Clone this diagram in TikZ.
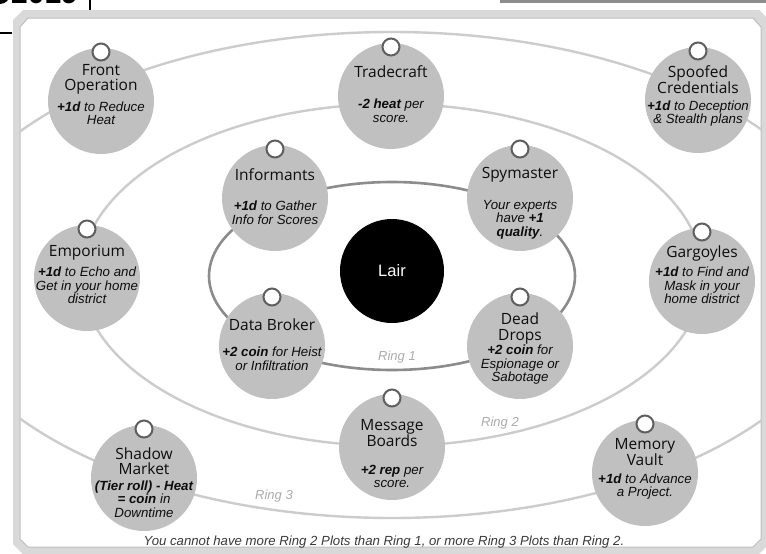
\documentclass[tikz,border=0pt]{standalone}
\usepackage{fontspec}
\setmainfont{Liberation Sans}
\newfontfamily\titlefont{Open Sans}
\definecolor{plotgray}{HTML}{C0C0C0}
\definecolor{ringdark}{HTML}{8C8C8C}
\definecolor{ringlight}{HTML}{CCCCCC}
\definecolor{holeedge}{HTML}{5F5F5F}
\definecolor{bandgray}{HTML}{D9D9D9}
\definecolor{bandedge}{HTML}{BEBEBE}
\definecolor{labelgray}{HTML}{ABABAB}
\definecolor{notegray}{HTML}{3A3A3A}
\tikzset{
  plot/.style={circle, fill=plotgray, minimum size=106pt, inner sep=0pt},
  hole/.style={circle, draw=holeedge, line width=2pt, fill=white, minimum size=17pt, inner sep=0pt},
  plottitle/.style={align=center, inner sep=0pt, text=black!95, font=\titlefont\fontsize{15.5}{15.5}\selectfont},
  plotbody/.style={align=center, inner sep=0pt, text=black!95, font=\itshape\fontsize{13.3}{13.5}\selectfont},
  ringlabel/.style={inner sep=0pt, text=labelgray, font=\itshape\fontsize{13}{13}\selectfont},
}
\begin{document}
\begin{tikzpicture}[x=1pt,y=-1pt]
    \useasboundingbox (0,0) rectangle (766,554);
    % page bits cut off at the edge
    \fill (0,-6) circle (10pt);
    \node[anchor=base west, inner sep=0pt, font=\bfseries\fontsize{30}{30}\selectfont] (year) at (11,4) {2019};
    \draw[line width=1.5pt] (90,0) -- (90,11);
    \draw[line width=2pt] (0,33) -- (12,33);
    \fill[black!45] (500,0) rectangle (766,2.7);

    % frame
    \fill[bandgray] (13,20) -- (23,10) -- (759,10) -- (769,20) -- (769,544) -- (759,554) -- (23,554) -- (13,544) -- cycle;
    \filldraw[fill=white, draw=bandedge, line width=1pt] (20,27) -- (28,18) -- (753,18) -- (761,27) -- (761,539) -- (753,547) -- (28,547) -- (20,539) -- cycle;

    % rings
    \begin{scope}
        \clip (20,27) -- (28,18) -- (753,18) -- (761,27) -- (761,539) -- (753,547) -- (28,547) -- (20,539) -- cycle;
        \draw[ringlight, line width=2.4pt] (392,275) ellipse [x radius=461pt, y radius=243pt];
        \draw[ringlight, line width=2.4pt] (392,275) ellipse [x radius=311pt, y radius=171pt];
        \draw[ringdark, line width=2.6pt] (392,276) ellipse [x radius=183pt, y radius=94pt];
    \end{scope}
    \node[ringlabel] (r1) at (397,357) {Ring 1};
    \node[ringlabel] (r2) at (500,423) {Ring 2};
    \node[ringlabel] (r3) at (274,496) {Ring 3};

    \node[circle, fill=black, minimum size=104pt, inner sep=0pt, text=white,
          font=\fontsize{16.5}{16.5}\selectfont] (lair) at (392,271) {Lair};

    % ring 3
    \node[plot] (front) at (101,101) {};
    \node[plot] (trade) at (391,96) {};
    \node[plot] (spoof) at (698,100) {};
    \node[plot] (empor) at (87,278) {};
    \node[plot] (garg) at (702,281) {};
    \node[plot] (shadow) at (144,478) {};
    \node[plot] (boards) at (392,447) {};
    \node[plot] (vault) at (645,473) {};
    % ring 1
    \node[plot] (inform) at (275,198) {};
    \node[plot] (spy) at (520,198) {};
    \node[plot] (broker) at (272,346) {};
    \node[plot] (drops) at (520,346) {};

    \foreach \p in {front,trade,spoof,empor,garg,shadow,boards,vault,inform,spy,broker,drops}
        \node[hole] (\p-hole) at ([yshift=49pt]\p.center) {};

    \node[plottitle] (front-t) at (101,79.5) {Front\\Operation};
    \node[plotbody] (front-b) at (101,113) {\textbf{+1d} to Reduce\\Heat};
    \node[plottitle] (trade-t) at (391,72) {Tradecraft};
    \node[plotbody] (trade-b) at (391,110.5) {\textbf{-2 heat} per\\score.};
    \node[plottitle] (spoof-t) at (698,79.5) {Spoofed\\Credentials};
    \node[plotbody] (spoof-b) at (698,113.5) {\textbf{+1d} to Deception\\\& Stealth plans};
    \node[plottitle] (inform-t) at (275,175) {Informants};
    \node[plotbody] (inform-b) at (275,212.5) {\textbf{+1d} to Gather\\Info for Scores};
    \node[plottitle] (spy-t) at (520,175) {Spymaster};
    \node[plotbody] (spy-b) at (520,219.5) {Your experts\\have \textbf{+1}\\\textbf{quality}.};
    \node[plottitle] (empor-t) at (87,253) {Emporium};
    \node[plotbody] (empor-b) at (87,285.5) {\textbf{+1d} to Echo and\\Get in your home\\district};
    \node[plottitle] (garg-t) at (702,253) {Gargoyles};
    \node[plotbody] (garg-b) at (702,285.5) {\textbf{+1d} to Find and\\Mask in your\\home district};
    \node[plottitle] (broker-t) at (272,325) {Data Broker};
    \node[plotbody] (broker-b) at (272,358.5) {\textbf{+2 coin} for Heist\\or Infiltration};
    \node[plottitle] (drops-t) at (520,328.5) {Dead\\Drops};
    \node[plotbody] (drops-b) at (520,365) {\textbf{+2 coin} for\\Espionage or\\Sabotage};
    \node[plottitle] (boards-t) at (392,433) {Message\\Boards};
    \node[plotbody] (boards-b) at (392,476.5) {\textbf{+2 rep} per\\score.};
    \node[plottitle] (vault-t) at (645,452) {Memory\\Vault};
    \node[plotbody] (vault-b) at (645,486.5) {\textbf{+1d} to Advance\\a Project.};
    \node[plottitle] (shadow-t) at (144,461) {Shadow\\Market};
    \node[plotbody] (shadow-b) at (144,499) {\textbf{(Tier roll) - Heat}\\\textbf{= coin} in\\Downtime};

    \node[anchor=base, inner sep=0pt, text=notegray, font=\itshape\fontsize{13.2}{13.2}\selectfont] (note) at (384,545.5)
        {You cannot have more Ring 2 Plots than Ring 1, or more Ring 3 Plots than Ring 2.};
\end{tikzpicture}
\end{document}
